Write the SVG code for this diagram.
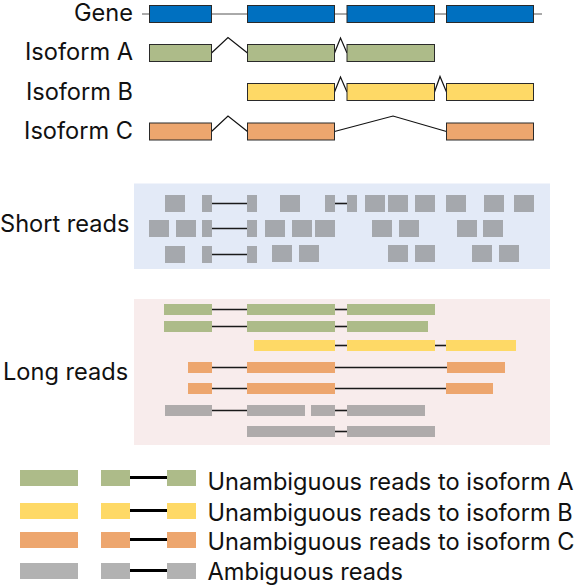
<svg xmlns="http://www.w3.org/2000/svg" width="584" height="587" viewBox="0 0 584 587">
<style>
text{font-family:Inter,"Liberation Sans",sans-serif;fill:#111;font-size:23.6px}
.lbl{text-anchor:end}
.ex{stroke:#2a2a2a;stroke-width:1}
.blue{fill:#0070C0}
.grn{fill:#ADBB89}
.yel{fill:#FED966}
.org{fill:#EDA66E}
.gs{fill:#A5A8AD}
.gl{fill:#AFABAB}
.gleg{fill:#B2B2B2}
.caret{fill:none;stroke:#111;stroke-width:1.2}
.ln{stroke:#1a1a1a;stroke-width:1.6}
.lnl{stroke:#000;stroke-width:3}
</style>
<rect x="134" y="183.5" width="416" height="85.5" fill="#E3EAF7"/>
<rect x="134" y="299" width="416" height="146" fill="#F8ECEC"/>
<g id="labels">
<text class="lbl" x="133" y="20.5">Gene</text>
<text class="lbl" x="133" y="60">Isoform A</text>
<text class="lbl" x="133" y="100">Isoform B</text>
<text class="lbl" x="133" y="138.5">Isoform C</text>
<text x="0" y="232">Short reads</text>
<text x="3" y="380">Long reads</text>
</g>
<g id="connectors">
<line x1="142" y1="14" x2="542" y2="14" stroke="#555" stroke-width="1"/>
<polyline class="caret" points="211.5,53 228,37.5 247.5,53"/>
<polyline class="caret" points="334.5,53 340.5,38 347,53"/>
<polyline class="caret" points="334.5,92 340.5,77 347,92"/>
<polyline class="caret" points="434.5,92 440,76.5 446.5,92"/>
<polyline class="caret" points="211.5,131.5 228,116 247.5,131.5"/>
<polyline class="caret" points="334.5,131.5 393,116 446.5,131.5"/>
<g class="ln">
<line x1="212" y1="203.5" x2="247" y2="203.5"/>
<line x1="335" y1="203.5" x2="347" y2="203.5"/>
<line x1="212" y1="228.5" x2="247" y2="228.5"/>
<line x1="212" y1="254.5" x2="247" y2="254.5"/>
<line x1="212" y1="309.5" x2="247" y2="309.5"/>
<line x1="335" y1="309.5" x2="347" y2="309.5"/>
<line x1="212" y1="326.5" x2="247" y2="326.5"/>
<line x1="335" y1="326.5" x2="347" y2="326.5"/>
<line x1="335" y1="345.5" x2="347" y2="345.5"/>
<line x1="435" y1="345.5" x2="446" y2="345.5"/>
<line x1="212" y1="367.5" x2="247" y2="367.5"/>
<line x1="335" y1="367.5" x2="447" y2="367.5"/>
<line x1="212" y1="388.5" x2="247" y2="388.5"/>
<line x1="335" y1="388.5" x2="446" y2="388.5"/>
<line x1="212" y1="410.5" x2="247" y2="410.5"/>
<line x1="335" y1="410.5" x2="347" y2="410.5"/>
<line x1="335" y1="431.5" x2="347" y2="431.5"/>
</g>
<g class="lnl">
<line x1="130" y1="477.5" x2="167" y2="477.5"/>
<line x1="130" y1="510.5" x2="167" y2="510.5"/>
<line x1="130" y1="539.5" x2="167" y2="539.5"/>
<line x1="130" y1="570.5" x2="167" y2="570.5"/>
</g>
</g>
<g id="gene" class="ex blue">
<rect x="149.5" y="5.5" width="62" height="17"/>
<rect x="247.5" y="5.5" width="87" height="17"/>
<rect x="347" y="5.5" width="87.5" height="17"/>
<rect x="446.5" y="5.5" width="87" height="17"/>
</g>
<g id="isoformA" class="ex grn">
<rect x="149.5" y="44.5" width="62" height="17"/>
<rect x="247.5" y="44.5" width="87" height="17"/>
<rect x="347" y="44.5" width="87.5" height="17"/>
</g>
<g id="isoformB" class="ex yel">
<rect x="247.5" y="83.5" width="87" height="17"/>
<rect x="347" y="83.5" width="87.5" height="17"/>
<rect x="446.5" y="83.5" width="87" height="17"/>
</g>
<g id="isoformC" class="ex org">
<rect x="149.5" y="123" width="62" height="17"/>
<rect x="247.5" y="123" width="87" height="17"/>
<rect x="446.5" y="123" width="87" height="17"/>
</g>
<g id="short-reads" class="gs">
<rect x="165" y="195" width="20" height="17"/><rect x="202" y="195" width="10" height="17"/><rect x="247" y="195" width="10" height="17"/><rect x="280" y="195" width="20" height="17"/><rect x="325" y="195" width="10" height="17"/><rect x="347" y="195" width="10" height="17"/><rect x="365" y="195" width="20" height="17"/><rect x="388" y="195" width="20" height="17"/><rect x="415" y="195" width="20" height="17"/><rect x="446" y="195" width="20" height="17"/><rect x="484" y="195" width="20" height="17"/><rect x="514" y="195" width="20" height="17"/>
<rect x="149" y="220" width="20" height="17"/><rect x="176" y="220" width="20" height="17"/><rect x="202" y="220" width="10" height="17"/><rect x="247" y="220" width="10" height="17"/><rect x="265" y="220" width="20" height="17"/><rect x="292" y="220" width="20" height="17"/><rect x="315" y="220" width="20" height="17"/><rect x="372" y="220" width="20" height="17"/><rect x="399" y="220" width="20" height="17"/><rect x="457" y="220" width="20" height="17"/><rect x="483" y="220" width="20" height="17"/>
<rect x="165" y="246" width="20" height="17"/><rect x="202" y="246" width="10" height="17"/><rect x="247" y="246" width="10" height="17"/><rect x="272" y="245" width="20" height="17"/><rect x="299" y="245" width="20" height="17"/><rect x="388" y="245" width="20" height="17"/><rect x="415" y="245" width="20" height="17"/><rect x="472" y="245" width="20" height="17"/><rect x="499" y="245" width="20" height="17"/>
</g>
<g id="long-reads">
<g class="grn">
<rect x="164" y="304" width="48" height="11"/><rect x="247" y="304" width="88" height="11"/><rect x="347" y="304" width="88" height="11"/>
<rect x="164" y="321" width="48" height="11"/><rect x="247" y="321" width="88" height="11"/><rect x="347" y="321" width="81" height="11"/>
</g>
<g class="yel">
<rect x="254" y="340" width="81" height="11"/><rect x="347" y="340" width="88" height="11"/><rect x="446" y="340" width="70" height="11"/>
</g>
<g class="org">
<rect x="188" y="362" width="24" height="11"/><rect x="247" y="362" width="88" height="11"/><rect x="447" y="362" width="58" height="11"/>
<rect x="188" y="383" width="24" height="11"/><rect x="247" y="383" width="88" height="11"/><rect x="446" y="383" width="47" height="11"/>
</g>
<g class="gl">
<rect x="165" y="405" width="47" height="11"/><rect x="247" y="405" width="58" height="11"/><rect x="311" y="405" width="24" height="11"/><rect x="347" y="405" width="78" height="11"/>
<rect x="247" y="426" width="88" height="11"/><rect x="347" y="426" width="88" height="11"/>
</g>
</g>
<g id="legend-a">
<rect class="grn" x="20" y="470" width="58" height="16"/><rect class="grn" x="101" y="470" width="29" height="16"/><rect class="grn" x="167" y="470" width="29" height="16"/>
<text x="207.5" y="490">Unambiguous reads to isoform A</text>
</g>
<g id="legend-b">
<rect class="yel" x="20" y="503" width="58" height="16"/><rect class="yel" x="101" y="503" width="29" height="16"/><rect class="yel" x="167" y="503" width="29" height="16"/>
<text x="207.5" y="520.5">Unambiguous reads to isoform B</text>
</g>
<g id="legend-c">
<rect class="org" x="20" y="532" width="58" height="16"/><rect class="org" x="101" y="532" width="29" height="16"/><rect class="org" x="167" y="532" width="29" height="16"/>
<text x="207.5" y="550">Unambiguous reads to isoform C</text>
</g>
<g id="legend-amb">
<rect class="gleg" x="20" y="563" width="58" height="16"/><rect class="gleg" x="101" y="563" width="29" height="16"/><rect class="gleg" x="167" y="563" width="29" height="16"/>
<text x="207.5" y="580">Ambiguous reads</text>
</g>
</svg>
